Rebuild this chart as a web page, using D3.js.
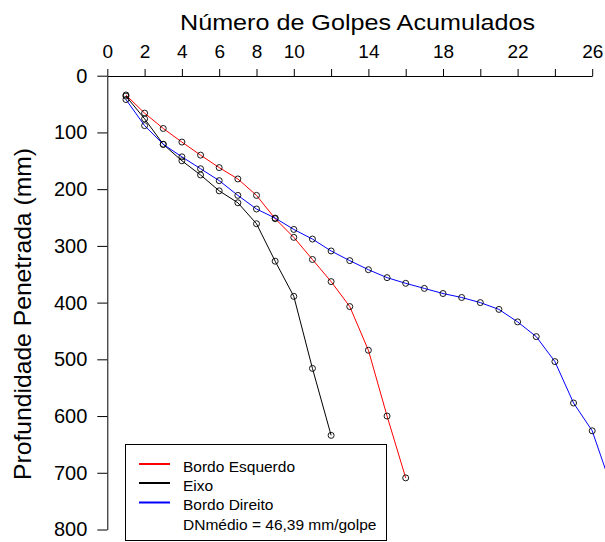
<!DOCTYPE html>
<html><head><meta charset="utf-8">
<script src="https://cdn.jsdelivr.net/npm/d3@7"></script>
<style>body{margin:0;background:#fff}svg{display:block}text{font-family:"Liberation Sans",Arial,Helvetica,sans-serif}</style>
</head><body>
<svg id="chart" width="605" height="542"></svg>
<script>
// Data: cumulative blows vs penetration depth (mm)
const golpesEsq = [1,2,3,4,5,6,7,8,9,10,11,12,13,14,15,16];
const profEsq   = [34,66,93,117,140,162,182,211,252,285,324,363,407,484,600,709];
const golpesEixo = [1,2,3,4,5,6,7,8,9,10,11,12];
const profEixo   = [36,76,121,150,175,203,224,261,327,389,516,634];
const golpesDir = [1,2,3,4,5,6,7,8,9,10,11,12,13,14,15,16,17,18,19,20,21,22,23,24,25,26,27];
const profDir   = [42,88,121,143,164,185,211,235,251,271,288,309,326,342,356,366,375,384,391,400,412,434,460,504,577,626,722];
const xTickVals = [0,2,4,6,8,10,12,14,16,18,20,22,24,26];
const xTickLabels = [0,2,4,6,8,10,14,18,22,26];
const yTickVals = [0,100,200,300,400,500,600,700,800];
const legendLabels = ["Bordo Esquerdo","Eixo","Bordo Direito"];
const legendColors = ["#ff0000","#000000","#0000ff"];
const legendNote = "DNmédio = 46,39 mm/golpe";
const titleX = "Número de Golpes Acumulados";
const titleY = "Profundidade Penetrada (mm)";

const svg = d3.select("#chart");
const x = d3.scaleLinear().domain([0,26]).range([107.3,592.2]);
const y = d3.scaleLinear().domain([0,800]).range([75.7,529.5]);

// x axis (top)
const xa = svg.append("g").attr("transform","translate(0,76)")
  .call(d3.axisTop(x).tickValues(xTickVals).tickSize(7).tickSizeOuter(0)
    .tickFormat(d => xTickLabels.includes(d) ? d : ""));
xa.select(".domain").attr("stroke","#000");
xa.selectAll(".tick line").attr("stroke","#000");
xa.selectAll(".tick text").attr("font-size",19).attr("fill","#000")
  .attr("font-family","Liberation Sans, Arial, sans-serif").attr("dy",0).attr("y",-18);

// y axis (left)
const ya = svg.append("g").attr("transform","translate(107.3,0)")
  .call(d3.axisLeft(y).tickValues(yTickVals).tickSize(10).tickSizeOuter(0).tickPadding(10));
ya.select(".domain").attr("stroke","#000");
ya.selectAll(".tick line").attr("stroke","#000");
ya.selectAll(".tick text").attr("font-size",20).attr("fill","#000")
  .attr("font-family","Liberation Sans, Arial, sans-serif");

// titles
svg.append("text").attr("x",357.5).attr("y",30).attr("text-anchor","middle")
  .attr("font-size",22).attr("textLength",355).attr("lengthAdjust","spacingAndGlyphs").text(titleX);
svg.append("text").attr("transform","translate(31,314) rotate(-90)").attr("text-anchor","middle")
  .attr("font-size",24).attr("textLength",332).attr("lengthAdjust","spacingAndGlyphs").text(titleY);

// series
const series = [
  {g:golpesEsq,p:profEsq,c:legendColors[0]},
  {g:golpesEixo,p:profEixo,c:legendColors[1]},
  {g:golpesDir,p:profDir,c:legendColors[2]}
];
const line = d3.line().x(d=>x(d[0])).y(d=>y(d[1]));
series.forEach(s=>{
  const pts = s.g.map((g,i)=>[g,s.p[i]]);
  svg.append("path").datum(pts).attr("d",line).attr("fill","none").attr("stroke",s.c).attr("stroke-width",1);
});
series.forEach(s=>{
  const pts = s.g.map((g,i)=>[g,s.p[i]]);
  svg.append("g").selectAll("circle").data(pts).join("circle")
    .attr("cx",d=>x(d[0])).attr("cy",d=>y(d[1])).attr("r",3)
    .attr("fill","none").attr("stroke","#000").attr("stroke-width",0.9);
});

// legend
const lg = svg.append("g");
lg.append("rect").attr("x",125.5).attr("y",444.5).attr("width",261).attr("height",96)
  .attr("fill","#fff").attr("stroke","#000").attr("stroke-width",1);
const rowY = [471.5,490.5,510,529.5];
legendLabels.forEach((l,i)=>{
  lg.append("line").attr("x1",139).attr("x2",170).attr("y1",rowY[i]-7.5).attr("y2",rowY[i]-7.5)
    .attr("stroke",legendColors[i]).attr("stroke-width",2);
  lg.append("text").attr("x",183).attr("y",rowY[i]).attr("font-size",15.5).text(l);
});
lg.append("text").attr("x",183).attr("y",rowY[3]).attr("font-size",15.5).text(legendNote);
</script>
</body></html>
